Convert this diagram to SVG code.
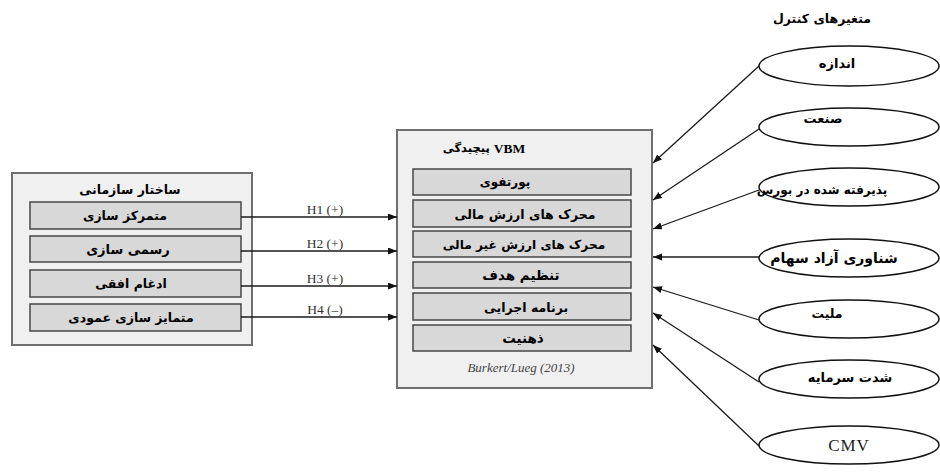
<svg xmlns="http://www.w3.org/2000/svg" width="940" height="472" viewBox="0 0 940 472">
  <style>
    .outer { fill: #f0f0f0; stroke: #6f6f6f; stroke-width: 2; }
    .inner { fill: #d8d8d8; stroke: #474747; stroke-width: 1.5; }
    .ell { fill: #ffffff; stroke: #111111; stroke-width: 1.5; }
    .fa { font-family: "DejaVu Sans", "Noto Sans", sans-serif; font-weight: bold; fill: #000; text-anchor: middle; dominant-baseline: central; }
    .hl { font-family: "Liberation Serif", serif; font-size: 13.5px; fill: #333; text-anchor: middle; }
    .conn line { stroke: #1a1a1a; stroke-width: 1.3; marker-end: url(#arrow); }
  </style>
  <defs>
    <marker id="arrow" markerUnits="userSpaceOnUse" markerWidth="10" markerHeight="8" refX="9" refY="3.5" orient="auto">
      <path d="M0,0 L9,3.5 L0,7 z" fill="#111"/>
    </marker>
  </defs>

  <rect width="940" height="472" fill="#ffffff"/>

  <!-- organisational structure -->
  <g id="structure">
    <rect class="outer" x="12" y="173" width="240" height="172"/>
    <text class="fa" x="130" y="189" font-size="12.5">ساختار سازمانی</text>
    <rect class="inner" x="30" y="202" width="211" height="27"/>
    <text class="fa" x="125" y="215" font-size="12.5">متمرکز سازی</text>
    <rect class="inner" x="30" y="236" width="211" height="26"/>
    <text class="fa" x="128" y="249" font-size="13">رسمی سازی</text>
    <rect class="inner" x="30" y="270" width="211" height="27"/>
    <text class="fa" x="131" y="283" font-size="12.5">ادغام افقی</text>
    <rect class="inner" x="30" y="304" width="211" height="27"/>
    <text class="fa" x="131" y="317" font-size="12.5">متمایز سازی عمودی</text>
  </g>

  <!-- VBM complexity -->
  <g id="vbm">
    <rect class="outer" x="397" y="130" width="255" height="258"/>
    <text x="484" y="148" dominant-baseline="central" text-anchor="middle" font-weight="bold"><tspan font-family="DejaVu Sans, sans-serif" font-size="11.5">پیچیدگی </tspan><tspan font-family="Liberation Serif, serif" font-size="13.5">VBM</tspan></text>
    <rect class="inner" x="413" y="169" width="218" height="26"/>
    <text class="fa" x="505" y="182" font-size="12">پورتفوی</text>
    <rect class="inner" x="413" y="200" width="218" height="27"/>
    <text class="fa" x="525" y="214" font-size="12.5">محرک های ارزش مالی</text>
    <rect class="inner" x="413" y="231" width="218" height="26"/>
    <text class="fa" x="524" y="245" font-size="12.2">محرک های ارزش غیر مالی</text>
    <rect class="inner" x="413" y="262" width="218" height="26"/>
    <text class="fa" x="521" y="275" font-size="13.5">تنظیم هدف</text>
    <rect class="inner" x="413" y="293" width="218" height="27"/>
    <text class="fa" x="526" y="307" font-size="12.5">برنامه اجرایی</text>
    <rect class="inner" x="413" y="325" width="218" height="26"/>
    <text class="fa" x="523" y="338" font-size="13.5">ذهنیت</text>
    <text x="521" y="372" text-anchor="middle" font-family="Liberation Serif, serif" font-style="italic" font-size="13" fill="#444">Burkert/Lueg (2013)</text>
  </g>

  <!-- control variables -->
  <text class="fa" x="822" y="18" font-size="12.5">متغیرهای کنترل</text>
  <g id="size">
    <ellipse class="ell" cx="849" cy="66" rx="90" ry="20"/>
    <text class="fa" x="837" y="63" font-size="13">اندازه</text>
  </g>
  <g id="industry">
    <ellipse class="ell" cx="849" cy="127" rx="90" ry="19"/>
    <text class="fa" x="823" y="118" font-size="13">صنعت</text>
  </g>
  <g id="listed">
    <ellipse class="ell" cx="849" cy="187" rx="90" ry="19"/>
    <text class="fa" x="822" y="190" font-size="12">پذیرفته شده در بورس</text>
  </g>
  <g id="freefloat">
    <ellipse class="ell" cx="849" cy="258" rx="90" ry="19"/>
    <text class="fa" x="834" y="258" font-size="14">شناوری آزاد سهام</text>
  </g>
  <g id="nationality">
    <ellipse class="ell" cx="849" cy="319" rx="90" ry="19"/>
    <text class="fa" x="827" y="313" font-size="12.5">ملیت</text>
  </g>
  <g id="capital">
    <ellipse class="ell" cx="849" cy="379" rx="90" ry="19"/>
    <text class="fa" x="850" y="377" font-size="13">شدت سرمایه</text>
  </g>
  <g id="cmv">
    <ellipse class="ell" cx="849" cy="445" rx="90" ry="19"/>
    <text x="849" y="451" text-anchor="middle" font-family="Liberation Serif, serif" font-size="17" letter-spacing="1" fill="#222">CMV</text>
  </g>

  <!-- connectors -->
  <g class="conn">
    <line x1="241" y1="217" x2="397" y2="217"/>
    <line x1="241" y1="251" x2="397" y2="251"/>
    <line x1="241" y1="286" x2="397" y2="286"/>
    <line x1="241" y1="317" x2="397" y2="317"/>
    <line x1="759" y1="66" x2="653" y2="163"/>
    <line x1="759" y1="129" x2="653" y2="200"/>
    <line x1="759" y1="190" x2="653" y2="229"/>
    <line x1="759" y1="257" x2="653" y2="257"/>
    <line x1="759" y1="320" x2="653" y2="287"/>
    <line x1="759" y1="382" x2="653" y2="313"/>
    <line x1="759" y1="446" x2="653" y2="345"/>
  </g>
  <g id="labels">
    <text class="hl" x="325" y="214">H1 (+)</text>
    <text class="hl" x="325" y="248">H2 (+)</text>
    <text class="hl" x="325" y="283">H3 (+)</text>
    <text class="hl" x="325" y="314">H4 (–)</text>
  </g>
</svg>
